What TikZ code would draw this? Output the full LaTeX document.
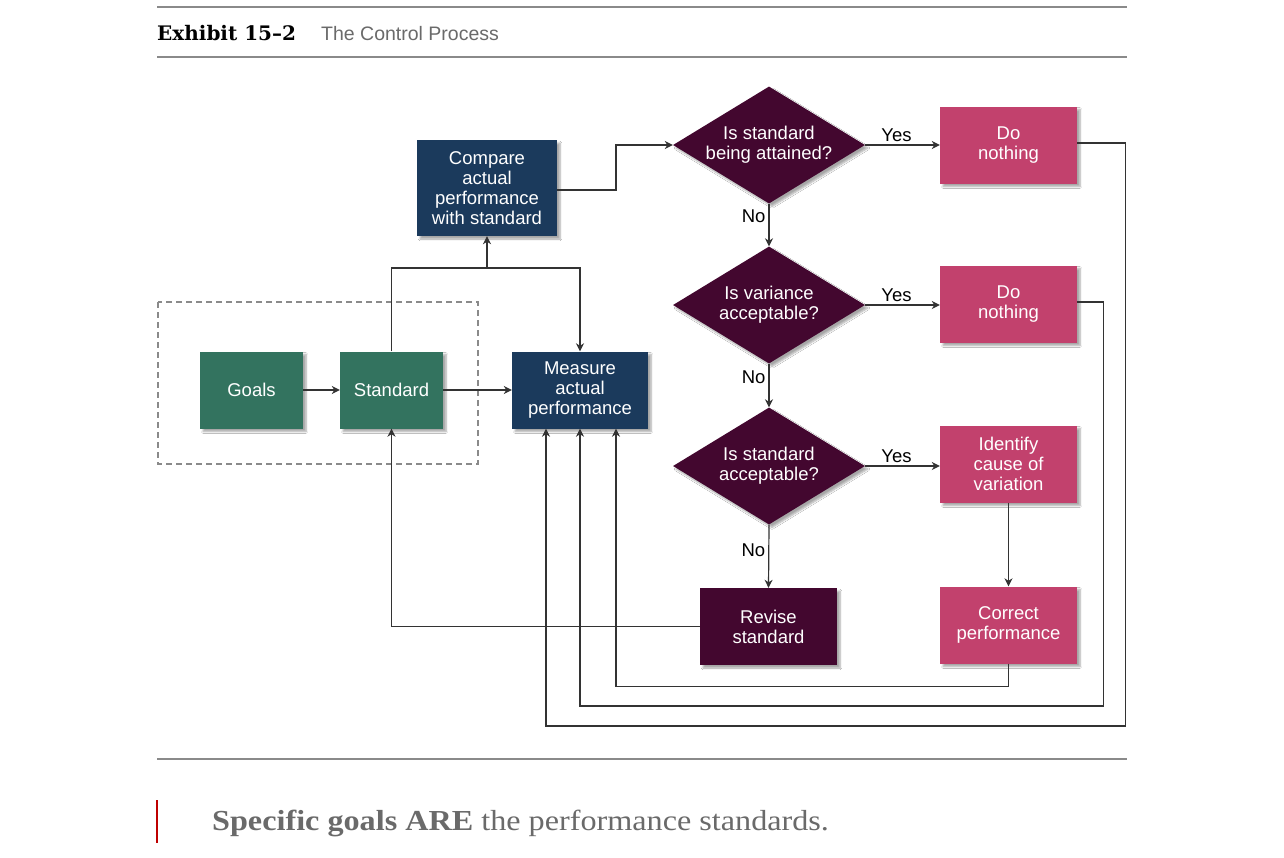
\documentclass[tikz,border=0pt]{standalone}
\usepackage{fontspec}
\setmainfont{Liberation Serif}
\setsansfont{Liberation Sans}
\newfontfamily\titlefont{DejaVu Serif}
\usetikzlibrary{shapes.geometric,arrows.meta,shadows.blur}
\definecolor{cgreen}{HTML}{33735F}
\definecolor{cnavy}{HTML}{1B3A5C}
\definecolor{cmaroon}{HTML}{43072F}
\definecolor{cpink}{HTML}{C2416D}
\definecolor{cline}{HTML}{333333}
\definecolor{crule}{HTML}{8A8A8A}
\definecolor{ccap}{HTML}{6A6A6A}
\begin{document}
\begin{tikzpicture}[x=1pt,y=-1pt,
  nodefont/.style={font=\sffamily\fontsize{18.5}{20}\selectfont},
  shad/.style={blur shadow={shadow xshift=3pt,shadow yshift=-3pt,shadow blur steps=6,shadow opacity=35}},
  box/.style={rectangle,inner sep=0pt,text=white,align=center,nodefont,shad,minimum height=77pt},
  greenbox/.style={box,fill=cgreen,minimum width=103pt},
  navybox/.style={box,fill=cnavy},
  pinkbox/.style={box,fill=cpink,minimum width=137pt},
  maroonbox/.style={box,fill=cmaroon,minimum width=137pt},
  dia/.style={diamond,fill=cmaroon,inner sep=0pt,minimum width=192pt,minimum height=117pt,shad},
  diatext/.style={text=white,align=center,nodefont,inner sep=0pt},
  lbl/.style={nodefont,text=black,inner sep=3pt},
  ln/.style={draw=cline,line width=1.2pt},
  arr/.style={ln,-{Stealth[length=8pt,width=8pt,inset=2.5pt]}}
]
\useasboundingbox[fill=white] (0,0) rectangle (1284,857);

% header / footer rules
\draw[crule,line width=1.4pt] (157,7) -- (1127,7);
\draw[crule,line width=1.4pt] (157,57) -- (1127,57);
\draw[crule,line width=1.4pt] (157,759) -- (1127,759);
\node[anchor=base west,inner sep=0pt] (title) at (157,40) {\titlefont\bfseries\fontsize{20}{24}\selectfont Exhibit 15–2};
\node[anchor=base west,inner sep=0pt,text=ccap] (subtitle) at (321,40) {\sffamily\fontsize{19.5}{22}\selectfont The Control Process};

% dashed frame
\draw[crule,dashed,line width=1.1pt,dash pattern=on 6pt off 4pt] (158,302) rectangle (478,464);

% nodes
\node[greenbox] (goals) at (251.5,390) {Goals};
\node[greenbox] (standard) at (391.5,390) {Standard};
\node[navybox,minimum width=136pt] (measure) at (580,390) {Measure\\actual\\performance};
\node[navybox,minimum width=140pt,minimum height=96pt] (compare) at (487,188) {Compare\\actual\\performance\\with standard};

\node[dia,label={[diatext]center:Is standard\\being attained?}] (d1) at (769,145) {};
\node[dia,label={[diatext]center:Is variance\\acceptable?}] (d2) at (769,305) {};
\node[dia,label={[diatext]center:Is standard\\acceptable?}] (d3) at (769,466) {};

\node[pinkbox] (dn1) at (1008.5,145) {Do\\nothing};
\node[pinkbox] (dn2) at (1008.5,304) {Do\\nothing};
\node[pinkbox] (ident) at (1008.5,464) {Identify\\cause of\\variation};
\node[pinkbox] (correct) at (1008.5,625) {Correct\\performance};
\node[maroonbox] (revise) at (768.5,626.5) {Revise\\standard};

% connectors
\draw[arr] (goals) -- (standard);
\draw[arr] (standard) -- (measure);
\coordinate (j1) at (391.5,268);
\coordinate (jc) at (487,268);
\draw[arr] (standard.north) -- (j1) -| (measure.north);
\draw[arr] (jc) -- (compare.south);
\coordinate (k1) at (616,190);
\draw[arr] (compare.east |- k1) -- (k1) |- (d1.west);

\draw[arr] (d1.east) -- node[lbl,above,pos=0.42] {Yes} (dn1.west);
\draw[arr] (d2.east) -- node[lbl,above,pos=0.42] {Yes} (dn2.west |- d2.east);
\draw[arr] (d3.east) -- node[lbl,above,pos=0.42] {Yes} (ident.west |- d3.east);

\draw[arr] (d1.south) -- node[lbl,left,pos=0.3] {No} (d2.north);
\draw[arr] (d2.south) -- node[lbl,left,pos=0.3] {No} (d3.north);
\draw[arr] (d3.south) -- node[lbl,left,pos=0.4] {No} (revise.north);

\draw[arr] (ident) -- (correct);

\draw[arr] (revise.west) -| (standard.south);
\draw[arr] (correct.south) -- ++(0,23) -| ([xshift=36pt]measure.south);
\draw[arr] (dn2.east |- 0,302) -- ++(26,0) -- ++(0,404) -| (measure.south);
\draw[arr] (dn1.east |- 0,143) -- ++(48,0) -- ++(0,583) -| ([xshift=-34pt]measure.south);

% caption
\draw[red!75!black,line width=1.2pt] (157,800) -- (157,843);
\node[anchor=base west,inner sep=0pt,text=ccap] (caption) at (212,830) {\scalebox{1.11}[1]{\fontsize{29}{32}\selectfont\textbf{Specific goals ARE} the performance standards.}};
\end{tikzpicture}
\end{document}
